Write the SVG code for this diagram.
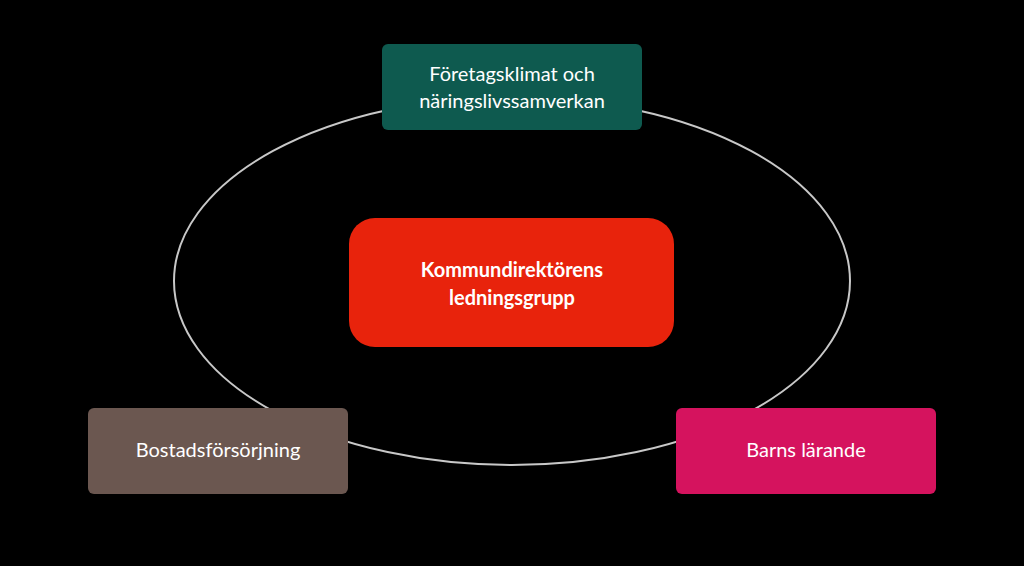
<svg xmlns="http://www.w3.org/2000/svg" width="1024" height="566" viewBox="0 0 1024 566">
<style>
.t{font-family:Lato,"Liberation Sans",sans-serif;font-size:20px;fill:#fff;text-anchor:middle}
.b{font-weight:bold}
</style>
<rect width="1024" height="566" fill="#000"/>
<g id="connectors"><ellipse cx="512" cy="281" rx="338" ry="184" fill="none" stroke="#c8c8c8" stroke-width="2"/></g>
<g id="top"><rect x="382" y="44" width="260" height="86" rx="6" fill="#0e5a4f"/><text class="t" x="512" y="81">Företagsklimat och</text><text class="t" x="512" y="108">näringslivssamverkan</text></g>
<g id="center"><rect x="349" y="218" width="325" height="129" rx="26" fill="#e8230c"/><text class="t b" x="512" y="277">Kommundirektörens</text><text class="t b" x="512" y="305">ledningsgrupp</text></g>
<g id="left"><rect x="88" y="408" width="260" height="86" rx="6" fill="#6b5750"/><text class="t" x="218" y="457">Bostadsförsörjning</text></g>
<g id="right"><rect x="676" y="408" width="260" height="86" rx="6" fill="#d5135e"/><text class="t" x="806" y="457">Barns lärande</text></g>
</svg>
